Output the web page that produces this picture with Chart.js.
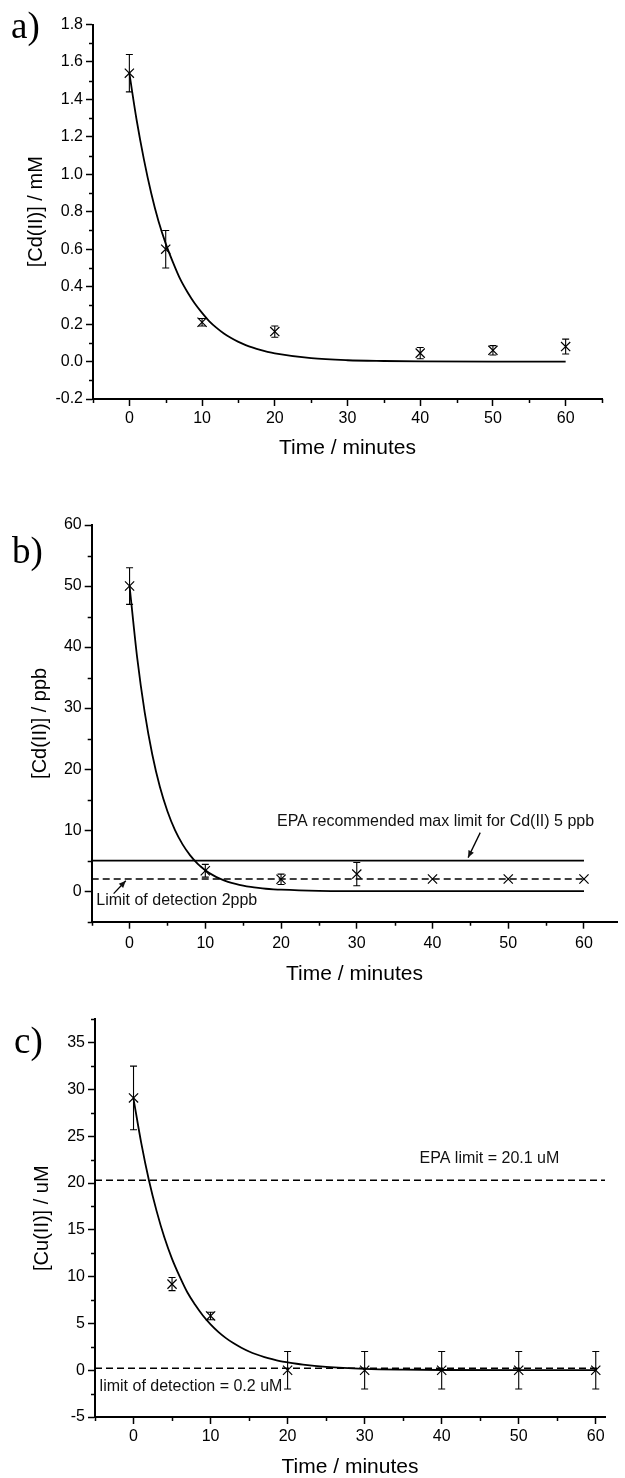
<!DOCTYPE html>
<html>
<head>
<meta charset="utf-8">
<title>Metal ion concentration vs time</title>
<script src="https://cdn.jsdelivr.net/npm/chart.js@4.4.1/dist/chart.umd.min.js"></script>
<style>
  html, body { margin: 0; padding: 0; background: #fff; }
  #page { position: relative; width: 625px; height: 1478px; overflow: hidden; }
  canvas { position: absolute; left: 0; }
</style>
</head>
<body>
<div id="page">
  <canvas id="chartA" width="625" height="470" style="top:0px"></canvas>
  <canvas id="chartB" width="625" height="516" style="top:470px"></canvas>
  <canvas id="chartC" width="625" height="492" style="top:986px"></canvas>
</div>
<script>
// ---- a) Cd(II) in mM ----
const aTime = [0, 5, 10, 20, 40, 50, 60];
const aConc = [1.54, 0.60, 0.21, 0.16, 0.045, 0.06, 0.08];
const aErr = [0.10, 0.10, 0.02, 0.03, 0.03, 0.025, 0.04];
const aFitTime = [0, 1, 2, 3, 4, 5, 6, 7, 8, 9, 10, 11, 12, 13, 14, 15, 16, 17, 18, 19, 20, 25, 30, 35, 40, 50, 60];
const aFitConc = [1.54, 1.29, 1.08, 0.90, 0.75, 0.63, 0.53, 0.44, 0.37, 0.31, 0.26, 0.215, 0.18, 0.15, 0.126, 0.105, 0.088, 0.074, 0.062, 0.052, 0.044, 0.018, 0.007, 0.003, 0.001, 0, 0];
const aYTicks = [-0.2, 0, 0.2, 0.4, 0.6, 0.8, 1.0, 1.2, 1.4, 1.6, 1.8];
const aXTicks = [0, 10, 20, 30, 40, 50, 60];

// ---- b) Cd(II) in ppb ----
const bTime = [0, 10, 20, 30, 40, 50, 60];
const bConc = [50, 3.35, 1.95, 2.8, 2, 2, 2];
const bErr = [3, 1.05, 0.85, 1.9, 0, 0, 0];
const bFitTime = [0, 1, 2, 3, 4, 5, 6, 7, 8, 9, 10, 11, 12, 13, 14, 15, 16, 17, 18, 19, 20, 25, 30, 40, 50, 60];
const bFitConc = [50, 38.3, 29.3, 22.4, 17.1, 13.1, 10.0, 7.67, 5.87, 4.49, 3.44, 2.63, 2.01, 1.54, 1.18, 0.90, 0.69, 0.53, 0.40, 0.31, 0.24, 0.06, 0.02, 0, 0, 0];
const bEpaLimit = 5;
const bDetectLimit = 2;
const bYTicks = [0, 10, 20, 30, 40, 50, 60];
const bXTicks = [0, 10, 20, 30, 40, 50, 60];

// ---- c) Cu(II) in uM ----
const cTime = [0, 5, 10, 20, 30, 40, 50, 60];
const cConc = [29.1, 9.2, 5.8, 0, 0, 0, 0, 0];
const cErr = [3.4, 0.7, 0.4, 2, 2, 2, 2, 2];
const cFitTime = [0, 1, 2, 3, 4, 5, 6, 7, 8, 9, 10, 11, 12, 13, 14, 15, 16, 17, 18, 19, 20, 22, 25, 30, 35, 40, 50, 60];
const cFitConc = [29, 24.3, 20.3, 17.0, 14.2, 11.9, 10.0, 8.3, 7.0, 5.85, 4.9, 4.1, 3.43, 2.87, 2.4, 2.0, 1.68, 1.41, 1.18, 0.98, 0.84, 0.6, 0.36, 0.15, 0.06, 0.02, 0, 0];
const cEpaLimit = 20.3;
const cDetectLimit = 0.2;
const cYTicks = [-5, 0, 5, 10, 15, 20, 25, 30, 35];
const cXTicks = [0, 10, 20, 30, 40, 50, 60];

Chart.defaults.font.family = "'Liberation Sans', Arial, sans-serif";
Chart.defaults.color = '#000';

// error bars, minor ticks, notes and the panel letter
function extras(cfg) {
    return {
        id: 'extras',
        afterDatasetsDraw(chart) {
            const ctx = chart.ctx, xs = chart.scales.x, ys = chart.scales.y;
            ctx.save();
            ctx.strokeStyle = '#000';
            ctx.lineWidth = 1.1;
            cfg.time.forEach((t, i) => {
                const e = cfg.err[i];
                if (!e) return;
                const px = xs.getPixelForValue(t);
                const top = ys.getPixelForValue(cfg.conc[i] + e);
                const bot = ys.getPixelForValue(cfg.conc[i] - e);
                ctx.beginPath();
                ctx.moveTo(px, top); ctx.lineTo(px, bot);
                ctx.moveTo(px - 3.5, top); ctx.lineTo(px + 3.5, top);
                ctx.moveTo(px - 3.5, bot); ctx.lineTo(px + 3.5, bot);
                ctx.stroke();
            });
            ctx.restore();
        },
        afterDraw(chart) {
            const ctx = chart.ctx, xs = chart.scales.x, ys = chart.scales.y;
            const area = chart.chartArea;
            ctx.save();
            ctx.strokeStyle = '#000';
            ctx.lineWidth = 1.5;

            // minor ticks
            ctx.beginPath();
            for (let v = Math.ceil(xs.min / cfg.xMinor) * cfg.xMinor; v <= xs.max + 1e-9; v += cfg.xMinor) {
                if (cfg.xTicks.some(m => Math.abs(m - v) < 1e-6)) continue;
                const px = Math.round(xs.getPixelForValue(v)) + 0.5;
                ctx.moveTo(px, area.bottom); ctx.lineTo(px, area.bottom + 4);
            }
            for (let v = Math.ceil(ys.min / cfg.yMinor) * cfg.yMinor; v <= ys.max + 1e-9; v += cfg.yMinor) {
                if (cfg.yTicks.some(m => Math.abs(m - v) < 1e-6)) continue;
                const py = Math.round(ys.getPixelForValue(v)) + 0.5;
                ctx.moveTo(area.left - 4, py); ctx.lineTo(area.left, py);
            }
            ctx.stroke();

            // notes
            ctx.fillStyle = '#111';
            ctx.font = "16px 'Liberation Sans', Arial, sans-serif";
            ctx.textBaseline = 'middle';
            cfg.notes.forEach(n => {
                ctx.textAlign = n.align;
                ctx.fillText(n.text, xs.getPixelForValue(n.x), ys.getPixelForValue(n.y));
            });

            // arrows
            ctx.lineWidth = 1.3;
            cfg.arrows.forEach(a => {
                const x1 = xs.getPixelForValue(a.from[0]), y1 = ys.getPixelForValue(a.from[1]);
                const x2 = xs.getPixelForValue(a.to[0]), y2 = ys.getPixelForValue(a.to[1]);
                const ang = Math.atan2(y2 - y1, x2 - x1);
                ctx.beginPath();
                ctx.moveTo(x1, y1); ctx.lineTo(x2, y2);
                ctx.stroke();
                ctx.beginPath();
                ctx.moveTo(x2, y2);
                ctx.lineTo(x2 - 7 * Math.cos(ang) + 3 * Math.sin(ang), y2 - 7 * Math.sin(ang) - 3 * Math.cos(ang));
                ctx.lineTo(x2 - 7 * Math.cos(ang) - 3 * Math.sin(ang), y2 - 7 * Math.sin(ang) + 3 * Math.cos(ang));
                ctx.closePath();
                ctx.fill();
            });

            // panel letter
            ctx.fillStyle = '#000';
            ctx.font = "37px 'Liberation Serif', 'Times New Roman', serif";
            ctx.textAlign = 'left';
            ctx.textBaseline = 'alphabetic';
            ctx.fillText(cfg.panel.text, cfg.panel.x, cfg.panel.y);
            ctx.restore();
        }
    };
}

function makeChart(id, cfg) {
    const datasets = [{
        data: cfg.fitTime.map((t, i) => ({ x: t, y: cfg.fitConc[i] })),
        showLine: true,
        borderColor: '#000',
        borderWidth: 1.8,
        pointRadius: 0,
        cubicInterpolationMode: 'monotone'
    }];
    cfg.limits.forEach(l => {
        datasets.push({
            data: [{ x: l.from, y: l.value }, { x: l.to, y: l.value }],
            showLine: true,
            borderColor: '#000',
            borderWidth: l.dashed ? 1.5 : 1.8,
            borderDash: l.dashed ? [7, 4] : [],
            pointRadius: 0
        });
    });
    datasets.push({
        data: cfg.time.map((t, i) => ({ x: t, y: cfg.conc[i] })),
        pointStyle: 'crossRot',
        pointRadius: 6.5,
        borderColor: '#000',
        backgroundColor: '#000',
        borderWidth: 1.2
    });

    return new Chart(document.getElementById(id), {
        type: 'scatter',
        data: { datasets: datasets },
        options: {
            responsive: false,
            animation: false,
            events: [],
            layout: { padding: { top: cfg.padTop, right: cfg.padRight, left: 0, bottom: 0 } },
            plugins: { legend: { display: false }, tooltip: { enabled: false } },
            scales: {
                x: {
                    type: 'linear',
                    min: cfg.xMin,
                    max: cfg.xMax,
                    afterBuildTicks: s => { s.ticks = cfg.xTicks.map(v => ({ value: v })); },
                    afterFit: s => { s.height = cfg.xHeight; },
                    border: { display: true, color: '#000', width: 2 },
                    grid: { display: true, drawOnChartArea: false, drawTicks: true, tickLength: 7, tickWidth: 1.5, tickColor: '#000' },
                    ticks: { color: '#000', font: { size: 16 }, padding: cfg.xTickPad, maxRotation: 0, autoSkip: false, callback: v => String(v) },
                    title: { display: true, text: 'Time / minutes', color: '#000', font: { size: 21, lineHeight: 1 }, padding: { top: 0, bottom: cfg.xTitlePad } }
                },
                y: {
                    type: 'linear',
                    min: cfg.yMin,
                    max: cfg.yMax,
                    afterBuildTicks: s => { s.ticks = cfg.yTicks.map(v => ({ value: v })); },
                    afterFit: s => { s.width = cfg.yWidth; },
                    border: { display: true, color: '#000', width: 2 },
                    grid: { display: true, drawOnChartArea: false, drawTicks: true, tickLength: 7, tickWidth: 1.5, tickColor: '#000' },
                    ticks: { color: '#000', font: { size: 16 }, padding: 3, autoSkip: false, callback: cfg.yFormat },
                    title: { display: true, text: cfg.yTitle, color: '#000', font: { size: 20, lineHeight: 1 }, padding: { top: cfg.yTitlePad, bottom: 0 } }
                }
            }
        },
        plugins: [extras(cfg)]
    });
}

makeChart('chartA', {
    time: aTime, conc: aConc, err: aErr, fitTime: aFitTime, fitConc: aFitConc,
    xTicks: aXTicks, yTicks: aYTicks, xMinor: 5, yMinor: 0.1,
    xMin: -5, xMax: 65, yMin: -0.2, yMax: 1.8,
    yFormat: v => v.toFixed(1), yTitle: '[Cd(II)] / mM',
    padTop: 24.5, padRight: 23, xHeight: 71, yWidth: 93,
    xTickPad: 3, xTitlePad: 11, yTitlePad: 26,
    limits: [], notes: [], arrows: [],
    panel: { text: 'a)', x: 11, y: 38 }
});

makeChart('chartB', {
    time: bTime, conc: bConc, err: bErr, fitTime: bFitTime, fitConc: bFitConc,
    xTicks: bXTicks, yTicks: bYTicks, xMinor: 5, yMinor: 5,
    xMin: -5, xMax: 64.4, yMin: -5, yMax: 60,
    yFormat: v => String(v), yTitle: '[Cd(II)] / ppb',
    padTop: 55, padRight: 0, xHeight: 64.3, yWidth: 91.7,
    xTickPad: 5.5, xTitlePad: 1, yTitlePad: 30,
    limits: [
        { value: bEpaLimit, from: -5, to: 60, dashed: false },
        { value: bDetectLimit, from: -5, to: 60, dashed: true }
    ],
    notes: [
        { text: 'EPA recommended max limit for Cd(II) 5 ppb', x: 40.4, y: 11.4, align: 'center' },
        { text: 'Limit of detection 2ppb', x: -4.4, y: -1.6, align: 'left' }
    ],
    arrows: [
        { from: [46.3, 9.6], to: [44.7, 5.5] },
        { from: [-2.1, -0.4], to: [-0.5, 1.7] }
    ],
    panel: { text: 'b)', x: 12, y: 93 }
});

makeChart('chartC', {
    time: cTime, conc: cConc, err: cErr, fitTime: cFitTime, fitConc: cFitConc,
    xTicks: cXTicks, yTicks: cYTicks, xMinor: 5, yMinor: 2.5,
    xMin: -5, xMax: 61.2, yMin: -5, yMax: 37.5,
    yFormat: v => String(v), yTitle: '[Cu(II)] / uM',
    padTop: 33.3, padRight: 20, xHeight: 61, yWidth: 95,
    xTickPad: 3.4, xTitlePad: 0, yTitlePad: 32,
    limits: [
        { value: cEpaLimit, from: -5, to: 61.2, dashed: true },
        { value: cDetectLimit, from: -5, to: 60.5, dashed: true }
    ],
    notes: [
        { text: 'EPA limit = 20.1 uM', x: 46.2, y: 22.6, align: 'center' },
        { text: 'limit of detection = 0.2 uM', x: -4.4, y: -1.7, align: 'left' }
    ],
    arrows: [],
    panel: { text: 'c)', x: 14, y: 1053 - 986 }
});
</script>
</body>
</html>
